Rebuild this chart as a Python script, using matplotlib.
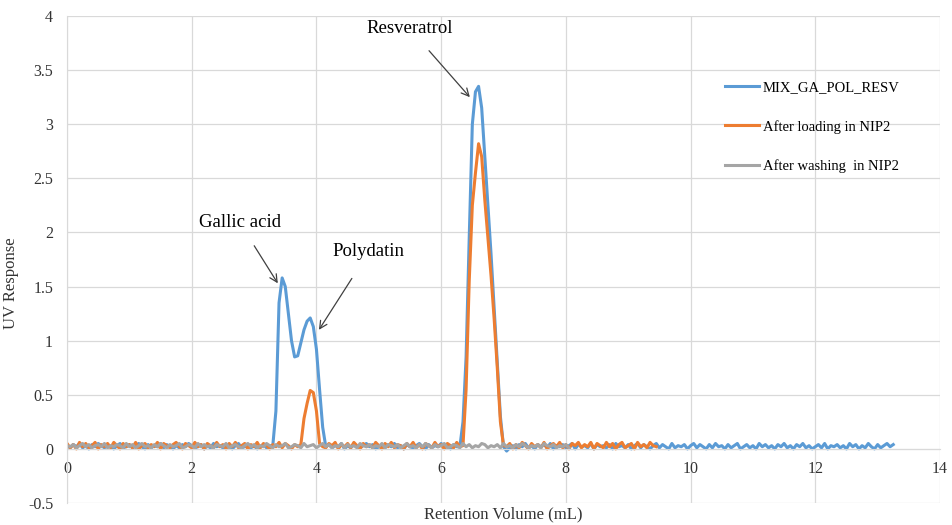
import numpy as np
import matplotlib
matplotlib.use('Agg')
import matplotlib.pyplot as plt

plt.rcParams['font.family'] = 'serif'
plt.rcParams['font.serif'] = ['Liberation Serif', 'DejaVu Serif']

# retention volume sampled every 0.05 mL, responses given in hundredths
step = 0.05

mix_vals = [
    3, 1, 4, 2, 5, 1, 3, 0, 4, 2, 5, 3, 1, 4, 2, 0, 3, 5, 1, 2,
    4, 1, 3, 5, 2, 0, 4, 1, 3, 2, 5, 1, 4, 2, 0, 3, 1, 4, 2, 5,
    3, 1, 2, 4, 0, 3, 1, 5, 2, 3, 1, 4, 2, 0, 3, 5, 1, 2, 4, 1,
    3, 0, 2, 4, 1, 3,
    # gallic acid / polydatin
    3, 35, 135, 158, 150, 125, 100, 85, 86, 98, 110, 118, 121, 113, 92, 55, 20, 2,
    4, 1, 3, 2, 5, 0, 3, 1, 4, 2, 1, 3, 5, 2, 4, 0, 2, 3, 1, 4,
    2, 5, 1, 3, 0, 4, 2, 1, 3, 5, 2, 0, 4, 1, 3, 2, 5, 1, 3, 0,
    4, 2,
    # resveratrol
    2, 25, 85, 195, 300, 330, 335, 315, 270, 225, 180, 130, 80, 30, 2, -2,
    1, 3, 0, 4, 2, 5, 1, 3, 0, 4, 2, 4, 1, 5, 0, 3, 2, 4, 1, 3,
    5, 0, 4, 2, 3, 1, 5, 0, 4, 2, 3, 1, 4, 0, 5, 2, 3, 1, 4, 0,
    3, 5, 1, 4, 2, 0, 3, 5, 1, 4, 2, 0, 5, 1, 3, 2, 4, 0, 3, 5,
    1, 4, 2, 0, 4, 1, 5, 2, 3, 0, 4, 1, 3, 5, 0, 2, 4, 1, 3, 0,
    5, 2, 4, 1, 3, 0, 4, 2, 5, 1, 3, 0, 4, 2, 5, 1, 3, 0, 2, 4,
    1, 5, 0, 3, 2, 4, 1, 3, 0, 5, 2, 4, 0, 3, 1, 5, 2, 0, 4, 1,
    3, 5, 2, 4,
]

loading_vals = [
    5, 1, 4, 0, 6, 2, 5, 1, 3, 6, 0, 4, 2, 5, 1, 6, 3, 0, 5, 2,
    4, 1, 6, 0, 3, 5, 1, 4, 2, 6, 0, 5, 3, 1, 4, 6, 2, 0, 5, 3,
    1, 6, 2, 4, 0, 5, 3, 1, 6, 2, 4, 0, 5, 2, 6, 1, 3, 5, 0, 4,
    2, 6, 1, 5, 3, 0, 4, 2, 6, 1, 5, 3, 0, 4,
    # small polydatin peak
    2, 4, 28, 42, 54, 52, 35, 5, 2,
    1, 5, 3, 6, 0, 4, 2, 5, 1, 6, 3, 0, 5, 2, 4, 1, 6, 3, 0, 5,
    2, 6, 1, 4, 3, 0, 5, 2, 6, 1, 4, 0, 5, 3, 1, 6, 2, 4, 0, 5,
    3, 1, 6, 2,
    # resveratrol
    3, 55, 155, 225, 255, 282, 270, 230, 195, 160, 120, 75, 25, 3,
    2, 5, 0, 4, 1, 6, 3, 0, 5, 2, 4, 1, 6, 0, 3, 5, 2, 6, 1, 4,
    0, 5, 3, 6, 1, 4, 2, 6, 0, 5, 3, 1, 6, 2, 5, 0, 4, 6, 1, 3,
    5, 0, 6, 2, 4, 1, 6, 3, 2,
]

washing_vals = [
    3, 2, 4, 1, 3, 5, 2, 4, 1, 3, 4, 2, 5, 1, 3, 2, 4, 3, 1, 5,
    2, 4, 1, 3, 5, 2, 3, 1, 4, 2, 5, 3, 1, 4, 2, 3, 5, 1, 2, 4,
    3, 1, 5, 2, 4, 2, 3, 1, 4, 3, 2, 5, 1, 3, 4, 2, 1, 3, 5, 2,
    4, 1, 3, 2, 5, 3, 1, 4, 2, 3, 5, 1, 2, 4, 3, 1, 5, 2, 3, 4,
    1, 3, 5, 2, 4, 1, 3, 2, 5, 1, 4, 2, 3, 1, 5, 3, 2, 4, 1, 3,
    2, 5, 1, 4, 3, 2, 4, 1, 3, 5, 2, 3, 1, 4, 2, 5, 3, 1, 4, 2,
    3, 5, 1, 2, 4, 3, 1, 5, 2, 4, 1, 3, 2, 5, 4, 1, 3, 2, 4, 1,
    5, 2, 3, 1, 4, 2, 5, 3, 1, 3, 2, 4, 1, 5, 3, 2, 4, 1, 3, 2,
    4, 1,
]

series_names = ['MIX_GA_POL_RESV', 'After loading in NIP2', 'After washing  in NIP2']
series_colors = ['#5B9BD5', '#ED7D31', '#A5A5A5']

fig = plt.figure(figsize=(9.52, 5.25), dpi=100)
ax = fig.add_axes([0.0704, 0.0419, 0.9170, 0.9276])

for vals, name, col in zip([mix_vals, loading_vals, washing_vals], series_names, series_colors):
    y = np.array(vals) / 100.0
    x = np.arange(len(y)) * step
    ax.plot(x, y, color=col, lw=2.2, label=name, solid_joinstyle='round')

ax.set_xlim(0, 14)
ax.set_ylim(-0.5, 4)
ax.set_xticks(np.arange(0, 15, 2))
ax.set_yticks(np.arange(-0.5, 4.01, 0.5))
ax.set_yticklabels(['-0.5', '0', '0.5', '1', '1.5', '2', '2.5', '3', '3.5', '4'])
ax.grid(True, color='#d9d9d9', lw=0.9)
ax.set_axisbelow(True)
for s in ['top', 'right']:
    ax.spines[s].set_visible(False)
ax.spines['bottom'].set_position(('data', 0))
ax.spines['bottom'].set_color('#d9d9d9')
ax.spines['left'].set_color('#d9d9d9')
ax.tick_params(length=0, labelsize=11.5, colors='#333333')
ax.tick_params(axis='x', pad=9)
ax.tick_params(axis='y', pad=10)

ax.set_xlabel('Retention Volume (mL)', fontsize=12, color='#333333', labelpad=0)
ax.xaxis.set_label_coords(0.5, -0.006)
ax.set_ylabel('UV Response', fontsize=12, color='#333333')
ax.yaxis.set_label_coords(-0.055, 0.452)

arrow = dict(arrowstyle='->', color='#404040', lw=0.9)
ax.annotate('Resveratrol', xy=(6.46, 3.25), xytext=(5.5, 3.88), fontsize=13.5,
            ha='center', va='center', arrowprops=dict(arrow, shrinkA=10, shrinkB=0))
ax.annotate('Gallic acid', xy=(3.38, 1.53), xytext=(2.77, 2.09), fontsize=13.5,
            ha='center', va='center', arrowprops=dict(arrow, shrinkA=10, shrinkB=0))
ax.annotate('Polydatin', xy=(4.04, 1.10), xytext=(4.84, 1.82), fontsize=13.5,
            ha='center', va='center', arrowprops=dict(arrow, shrinkA=13, shrinkB=0))

ax.legend(loc='upper left', bbox_to_anchor=(725 / 952, 1 - 81 / 525),
          bbox_transform=fig.transFigure, frameon=False, fontsize=10.5,
          handlelength=2.3, handletextpad=0.3, labelspacing=1.75,
          borderpad=0, borderaxespad=0)

fig.savefig('out.png', dpi=100)
